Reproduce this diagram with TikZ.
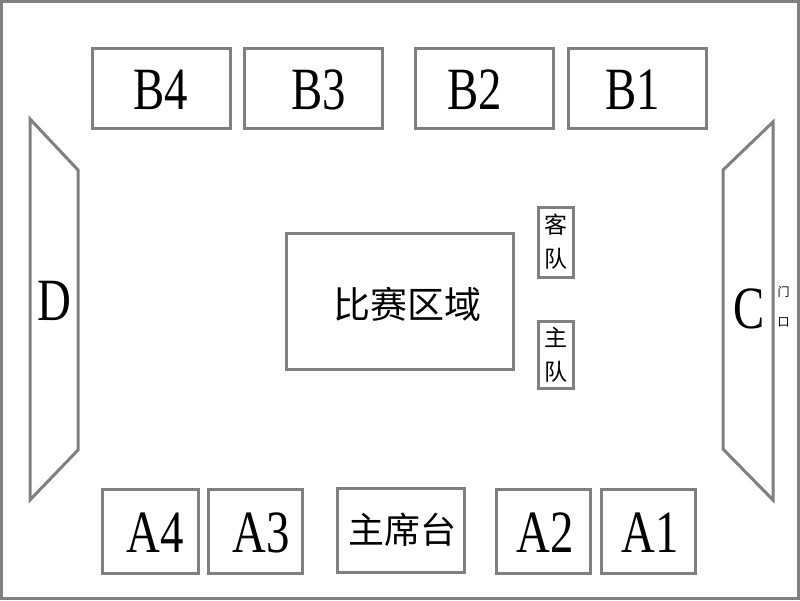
\documentclass[tikz,border=0pt]{standalone}
\usepackage{fontspec}
\setmainfont{Liberation Serif}
\newfontfamily\cjk{Noto Sans CJK SC}
\definecolor{linegray}{HTML}{808080}
\tikzset{
  box/.style={draw=linegray, line width=3pt, inner sep=0pt, fill=white},
  biglbl/.style={inner sep=0pt, font=\fontsize{60}{60}\selectfont},
  cjklbl/.style={inner sep=0pt, font=\cjk\fontsize{37}{37}\selectfont},
  teamlbl/.style={inner sep=0pt, align=center, font=\cjk\fontsize{23}{34}\selectfont},
  doorlbl/.style={inner sep=0pt, align=center, font=\cjk\fontsize{12}{30}\selectfont},
}
\newcommand{\narrow}[1]{\scalebox{0.78}[1]{#1}}
\begin{document}
\begin{tikzpicture}[x=1pt,y=-1pt]
\useasboundingbox (0,0) rectangle (800,600);
\fill[white] (0,0) rectangle (800,600);
% outer border
\draw[draw=linegray, line width=3pt] (1.5,1.5) rectangle (798.5,598.5);
% B row
\node[box, minimum width=138pt, minimum height=80pt] (b4) at (161.5,88.5) {};
\node[box, minimum width=138pt, minimum height=80pt] (b3) at (313.5,88.5) {};
\node[box, minimum width=138pt, minimum height=80pt] (b2) at (484,88.5) {};
\node[box, minimum width=138pt, minimum height=80pt] (b1) at (637,88.5) {};
\node[biglbl] (tb4) at (161,89.5) {\narrow{B4}};
\node[biglbl] (tb3) at (319,89.5) {\narrow{B3}};
\node[biglbl] (tb2) at (475,89.5) {\narrow{B2}};
\node[biglbl] (tb1) at (633,89.5) {\narrow{B1}};
% A row
\node[box, minimum width=96pt, minimum height=84pt] (a4) at (150,531) {};
\node[box, minimum width=94pt, minimum height=84pt] (a3) at (255,531) {};
\node[box, minimum width=127pt, minimum height=84pt] (zxt) at (400.5,530) {};
\node[box, minimum width=94pt, minimum height=84pt] (a2) at (543,531) {};
\node[box, minimum width=94pt, minimum height=84pt] (a1) at (648,531) {};
\node[biglbl] (ta4) at (155.5,533) {\narrow{A4}};
\node[biglbl] (ta3) at (261,533) {\narrow{A3}};
\node[cjklbl, font=\cjk\fontsize{36}{36}\selectfont] (tzxt) at (402,530) {主席台};
\node[biglbl] (ta2) at (545,533) {\narrow{A2}};
\node[biglbl] (ta1) at (650,533) {\narrow{A1}};
% side stands
\draw[draw=linegray, line width=3pt, line join=miter] (30,119) -- (78,170) -- (78,450) -- (30,500) -- cycle;
\draw[draw=linegray, line width=3pt, line join=miter] (773,122) -- (723,170) -- (723,449) -- (773,500) -- cycle;
\node[biglbl] (td) at (54.5,300.5) {\narrow{D}};
\node[biglbl] (tc) at (749.5,309) {\narrow{C}};
% door
\node[doorlbl] (door) at (783.5,307) {门\\口};
% field
\node[box, minimum width=227pt, minimum height=136pt] (field) at (399.5,301) {};
\node[cjklbl] (tfield) at (407.5,304) {比赛区域};
% team boxes
\node[box, minimum width=35pt, minimum height=70pt] (away) at (555.5,242) {};
\node[box, minimum width=35pt, minimum height=67pt] (home) at (555.5,354.5) {};
\node[teamlbl] (taway) at (555.5,242) {客\\队};
\node[teamlbl] (thome) at (555.5,354.5) {主\\队};
\end{tikzpicture}
\end{document}
